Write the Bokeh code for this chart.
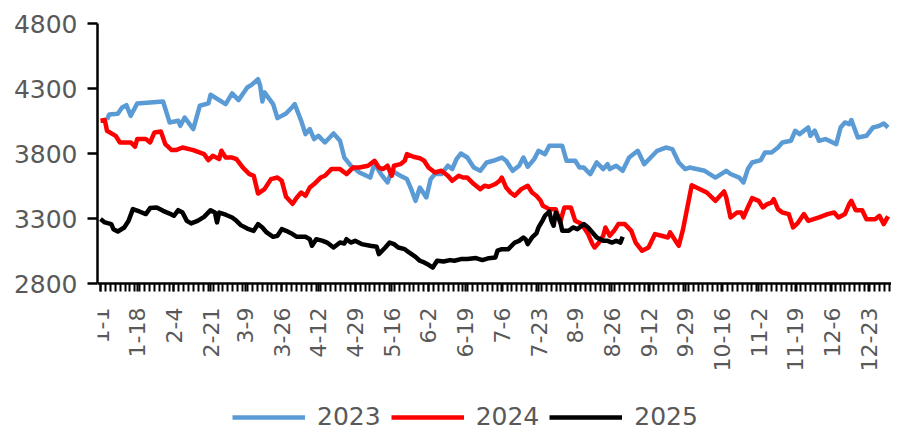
import math
from datetime import date
import numpy as np
from bokeh.plotting import figure
from bokeh.models import Range1d, FixedTicker, Legend, LegendItem
from bokeh.embed import file_html
from bokeh.resources import INLINE

# ---------------- data ----------------
TICK_LABELS = ["1-1", "1-18", "2-4", "2-21", "3-9", "3-26", "4-12", "4-29", "5-16",
               "6-2", "6-19", "7-6", "7-23", "8-9", "8-26", "9-12", "9-29", "10-16",
               "11-2", "11-19", "12-6", "12-23"]
Y_TICKS = [2800, 3300, 3800, 4300, 4800]
SERIES_NAMES = ["2023", "2024", "2025"]

# day of year (0 = Jan 1) and price
day_2023 = [3, 4, 8, 10, 12, 14, 17, 29, 32, 36, 37, 39, 43, 46, 50, 51, 58, 61, 64, 68, 70, 73, 74, 75, 76,
            80, 82, 86, 89, 90, 93, 95, 97, 99, 101, 104, 108, 111, 113, 116, 120, 125, 127, 130, 133, 135,
            139, 142, 144, 146, 148, 149, 151, 153, 155, 158, 161, 163, 165, 167, 170, 173, 176, 179, 182,
            186, 188, 191, 194, 196, 198, 201, 203, 206, 208, 214, 216, 220, 222, 224, 227, 230, 233, 235,
            236, 239, 242, 245, 249, 252, 255, 258, 262, 265, 268, 271, 273, 280, 285, 290, 292, 296, 298,
            300, 302, 306, 308, 311, 314, 316, 320, 322, 324, 328, 329, 331, 333, 336, 341, 343, 345, 347,
            348, 351, 355, 358, 361, 363, 365]
val_2023 = [4060, 4100, 4105, 4154, 4172, 4090, 4185, 4200, 4039, 4052, 4013, 4077, 3988, 4167, 4185, 4252,
            4180, 4262, 4211, 4308, 4328, 4372, 4321, 4200, 4270, 4180, 4072, 4108, 4160, 4180, 4052, 3949,
            3988, 3911, 3936, 3885, 3954, 3898, 3769, 3706, 3654, 3615, 3723, 3642, 3577, 3667, 3629, 3603,
            3526, 3436, 3538, 3513, 3462, 3603, 3642, 3642, 3706, 3680, 3757, 3800, 3769, 3692, 3667, 3731,
            3744, 3769, 3744, 3667, 3706, 3769, 3698, 3757, 3821, 3795, 3859, 3859, 3744, 3744, 3692, 3692,
            3642, 3731, 3680, 3718, 3680, 3706, 3667, 3769, 3821, 3718, 3769, 3821, 3846, 3834, 3731, 3680,
            3692, 3667, 3615, 3667, 3642, 3615, 3577, 3680, 3731, 3749, 3808, 3808, 3846, 3885, 3898, 3975,
            3949, 4000, 3936, 3975, 3898, 3911, 3872, 4000, 4039, 4026, 4057, 3923, 3936, 4000, 4013, 4031,
            4000]

day_2024 = [0, 2, 3, 7, 9, 14, 16, 17, 21, 23, 25, 28, 30, 33, 35, 38, 43, 48, 50, 52, 55, 56, 58, 61, 63,
            66, 69, 71, 73, 76, 79, 82, 84, 86, 89, 91, 93, 95, 97, 99, 102, 104, 107, 111, 114, 117, 120,
            124, 127, 129, 131, 133, 134, 135, 136, 139, 141, 142, 145, 148, 150, 152, 155, 158, 161, 163,
            166, 168, 170, 173, 176, 178, 180, 183, 185, 186, 188, 190, 192, 195, 198, 200, 202, 204, 205,
            208, 211, 213, 215, 218, 220, 223, 226, 228, 229, 231, 233, 234, 236, 238, 240, 243, 246, 248,
            251, 254, 257, 260, 263, 264, 267, 268, 270, 274, 281, 285, 289, 290, 292, 295, 297, 298, 300,
            302, 305, 307, 309, 311, 312, 314, 316, 319, 321, 323, 326, 328, 333, 337, 340, 342, 345, 347,
            348, 350, 353, 355, 359, 361, 363, 365]
val_2024 = [4052, 4057, 3975, 3936, 3885, 3885, 3852, 3911, 3911, 3885, 3962, 3969, 3872, 3826, 3826, 3846,
            3826, 3795, 3749, 3782, 3757, 3821, 3769, 3769, 3757, 3692, 3642, 3629, 3492, 3526, 3603, 3615,
            3590, 3467, 3413, 3462, 3500, 3475, 3538, 3565, 3615, 3629, 3680, 3680, 3642, 3692, 3692, 3706,
            3744, 3692, 3680, 3706, 3667, 3629, 3706, 3718, 3744, 3795, 3775, 3764, 3744, 3692, 3654, 3667,
            3629, 3590, 3629, 3615, 3615, 3565, 3526, 3552, 3544, 3565, 3590, 3615, 3538, 3500, 3475, 3526,
            3552, 3500, 3475, 3436, 3398, 3372, 3372, 3269, 3385, 3385, 3282, 3257, 3180, 3103, 3077, 3115,
            3167, 3231, 3167, 3205, 3257, 3257, 3205, 3115, 3052, 3077, 3180, 3167, 3154, 3193, 3115, 3090,
            3218, 3556, 3500, 3436, 3508, 3462, 3308, 3346, 3346, 3308, 3385, 3457, 3436, 3385, 3411, 3423,
            3449, 3372, 3346, 3334, 3231, 3262, 3334, 3282, 3308, 3334, 3346, 3308, 3334, 3411, 3436, 3364,
            3364, 3295, 3295, 3321, 3257, 3316]

day_2025 = [0, 2, 5, 6, 8, 11, 13, 15, 18, 21, 23, 26, 29, 32, 34, 36, 38, 40, 42, 45, 48, 51, 53, 54, 55,
            58, 61, 63, 65, 68, 71, 73, 75, 77, 80, 82, 84, 86, 89, 91, 95, 97, 98, 100, 103, 105, 108, 111,
            113, 114, 116, 118, 121, 125, 128, 129, 132, 134, 136, 138, 141, 143, 146, 148, 150, 152, 154,
            156, 159, 162, 164, 167, 170, 174, 177, 180, 183, 184, 186, 189, 192, 194, 196, 197, 198, 200,
            202, 203, 205, 206, 208, 209, 210, 211, 213, 214, 217, 219, 221, 224, 226, 228, 230, 233, 235,
            237, 239, 241, 242]
val_2025 = [3296, 3270, 3257, 3218, 3200, 3231, 3282, 3372, 3354, 3334, 3380, 3385, 3359, 3338, 3321, 3364,
            3346, 3282, 3262, 3282, 3313, 3364, 3346, 3270, 3346, 3329, 3308, 3282, 3249, 3223, 3205, 3257,
            3231, 3193, 3159, 3167, 3218, 3205, 3180, 3159, 3159, 3141, 3090, 3141, 3128, 3115, 3077, 3115,
            3108, 3141, 3115, 3128, 3103, 3090, 3082, 3026, 3077, 3115, 3103, 3077, 3064, 3039, 3005, 2975,
            2962, 2944, 2923, 2975, 2969, 2980, 2975, 2988, 2988, 2996, 2980, 2995, 3000, 3052, 3064, 3064,
            3115, 3128, 3154, 3141, 3103, 3154, 3185, 3231, 3288, 3321, 3354, 3282, 3244, 3346, 3282, 3205,
            3205, 3231, 3218, 3257, 3231, 3193, 3154, 3128, 3128, 3115, 3128, 3115, 3159]

COLORS = ["#5B9BD5", "#FF0000", "#000000"]
FONT = "DejaVu Sans"
TEXT_COLOR = "#595959"

Y_MIN, Y_MAX = Y_TICKS[0], Y_TICKS[-1]
# the frame runs down to the figure's bottom so that the legend can sit inside it
FRAME_TOP, AXIS_Y_PX, FIG_H = 23, 283, 432
units_per_px = (Y_MAX - Y_MIN) / (AXIS_Y_PX - FRAME_TOP)
y_bottom = Y_MIN - (FIG_H - AXIS_Y_PX) * units_per_px


def doy(label):
    m, d = (int(t) for t in label.split("-"))
    return (date(2023, m, d) - date(2023, 1, 1)).days


major = [doy(s) for s in TICK_LABELS]

p = figure(width=891, height=FIG_H, output_backend="svg", toolbar_location=None,
           x_range=Range1d(-1.4, 366.6), y_range=Range1d(y_bottom, Y_MAX),
           min_border_left=97, min_border_right=0, min_border_top=FRAME_TOP, min_border_bottom=0)
p.outline_line_color = None
p.xgrid.visible = False
p.ygrid.visible = False
p.background_fill_color = "white"

renderers = []
for xs, ys, col in [(day_2023, val_2023, COLORS[0]), (day_2024, val_2024, COLORS[1]),
                    (day_2025, val_2025, COLORS[2])]:
    r = p.line(xs, ys, line_color=col, line_width=4.5, line_join="round")
    renderers.append(r)

# x axis (pinned at the bottom value of the y scale)
xa = p.xaxis[0]
xa.fixed_location = Y_MIN
xa.ticker = FixedTicker(ticks=major, minor_ticks=list(np.arange(0, 367, 2.27)))
xa.major_label_overrides = {m: s for m, s in zip(major, TICK_LABELS)}
xa.major_label_orientation = math.pi / 2
xa.major_label_standoff = 16
xa.major_label_text_font = FONT
xa.major_label_text_font_size = "22px"
xa.major_label_text_color = TEXT_COLOR
xa.axis_line_color = "black"
xa.axis_line_width = 2.5
xa.major_tick_in = 0
xa.major_tick_out = 8
xa.minor_tick_in = 0
xa.minor_tick_out = 8
xa.major_tick_line_width = 2
xa.minor_tick_line_width = 2
xa.major_tick_line_color = "black"
xa.minor_tick_line_color = "black"

# y axis
ya = p.yaxis[0]
ya.bounds = (Y_MIN, Y_MAX)
ya.ticker = FixedTicker(ticks=Y_TICKS, minor_ticks=[])
ya.major_label_text_font = FONT
ya.major_label_text_font_size = "25px"
ya.major_label_text_color = TEXT_COLOR
ya.major_label_standoff = 10
ya.axis_line_color = "black"
ya.axis_line_width = 2.5
ya.major_tick_in = 0
ya.major_tick_out = 10
ya.major_tick_line_width = 2.5
ya.major_tick_line_color = "black"
ya.minor_tick_line_color = None

legend = Legend(items=[LegendItem(label=n, renderers=[r]) for n, r in zip(SERIES_NAMES, renderers)],
                location=(135, 1), orientation="horizontal",
                glyph_width=73, glyph_height=20, label_standoff=12, spacing=10,
                padding=0, margin=0, border_line_color=None, background_fill_alpha=0,
                label_text_font=FONT, label_text_font_size="25px", label_text_color=TEXT_COLOR)
p.add_layout(legend)

open("out.html", "w").write(file_html(p, INLINE))
